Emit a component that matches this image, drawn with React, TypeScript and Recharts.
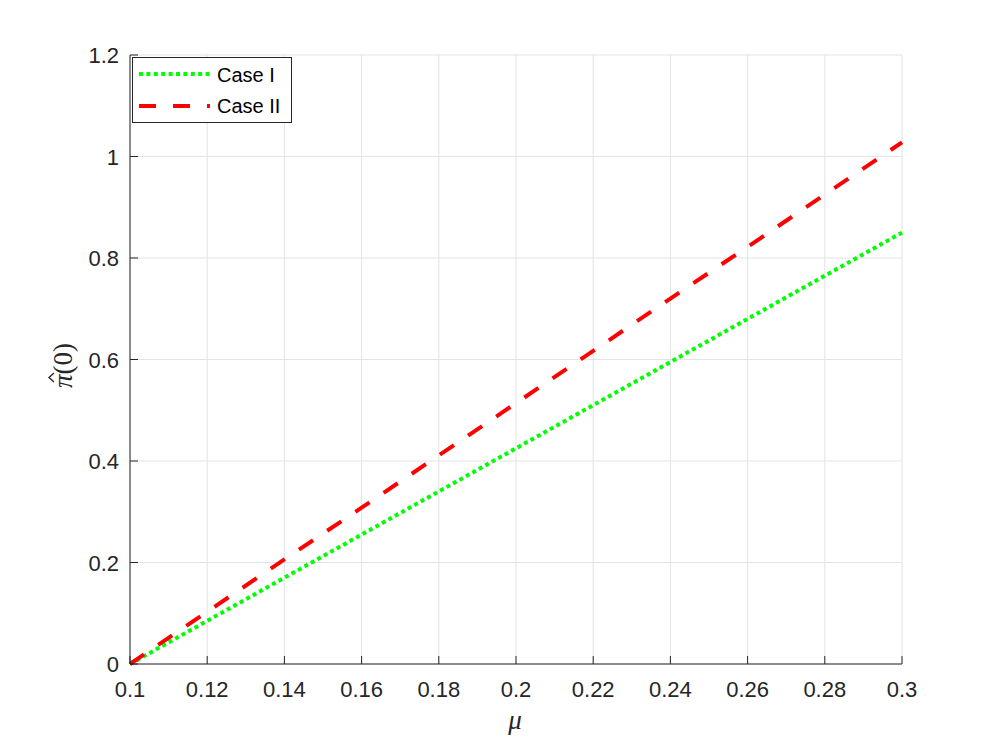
import React from 'react';
import { LineChart, Line, XAxis, YAxis, CartesianGrid, Label } from 'recharts';

const muValues = [0.1, 0.12, 0.14, 0.16, 0.18, 0.2, 0.22, 0.24, 0.26, 0.28, 0.3];
const caseI = [0, 0.085, 0.17, 0.255, 0.34, 0.425, 0.51, 0.595, 0.68, 0.765, 0.85];
const caseII = [0, 0.103, 0.206, 0.308, 0.411, 0.514, 0.617, 0.72, 0.822, 0.925, 1.028];
const xTicks = [0.1, 0.12, 0.14, 0.16, 0.18, 0.2, 0.22, 0.24, 0.26, 0.28, 0.3];
const yTicks = [0, 0.2, 0.4, 0.6, 0.8, 1, 1.2];
const seriesNames = ['Case I', 'Case II'];

const data = muValues.map((mu, i) => ({ mu, caseI: caseI[i], caseII: caseII[i] }));

const INK = '#262626';
const FONT = '"Liberation Sans", Arial, Helvetica, sans-serif';
const SERIF = '"Liberation Serif", "DejaVu Serif", serif';
const TICK_LEN = 8;
const GREEN_DASH = '4 3.4';
const RED_DASH = '17 17';

// ticks point inward, like matlab's box axes
const BottomTick = (props: any) => {
  const { x, y, payload } = props;
  return (
    <g>
      <line x1={x} x2={x} y1={y} y2={y - TICK_LEN} stroke={INK} strokeWidth={1} />
      <text x={x} y={y + 33} textAnchor="middle" fill={INK} fontSize={22} fontFamily={FONT}>
        {String(payload.value)}
      </text>
    </g>
  );
};

const TopTick = (props: any) => {
  const { x, y } = props;
  return <line x1={x} x2={x} y1={y} y2={y + TICK_LEN} stroke={INK} strokeWidth={1} />;
};

const LeftTick = (props: any) => {
  const { x, y, payload } = props;
  return (
    <g>
      <line x1={x} x2={x + TICK_LEN} y1={y} y2={y} stroke={INK} strokeWidth={1} />
      <text x={x - 11} y={y + 8} textAnchor="end" fill={INK} fontSize={22} fontFamily={FONT}>
        {String(payload.value)}
      </text>
    </g>
  );
};

const RightTick = (props: any) => {
  const { x, y } = props;
  return <line x1={x} x2={x - TICK_LEN} y1={y} y2={y} stroke={INK} strokeWidth={1} />;
};

export default function App() {
  return (
    <div style={{ position: 'absolute', left: 0, top: 0, width: 996, height: 747, background: '#fff' }}>
      <LineChart width={996} height={747} data={data} margin={{ top: 55, right: 94, bottom: 0, left: 0 }}>
        <CartesianGrid stroke="#e3e3e3" strokeWidth={1} />
        <XAxis
          dataKey="mu"
          type="number"
          domain={[0.1, 0.3]}
          ticks={xTicks}
          height={83}
          tickSize={0}
          tickMargin={0}
          tick={<BottomTick />}
          axisLine={{ stroke: INK }}
          tickLine={false}
          interval={0}
        >
          <Label
            content={() => (
              <text x={515} y={729} textAnchor="middle" fill={INK} fontSize={27} fontStyle="italic" fontFamily={SERIF}>
                μ
              </text>
            )}
          />
        </XAxis>
        <XAxis
          xAxisId="top"
          orientation="top"
          dataKey="mu"
          type="number"
          domain={[0.1, 0.3]}
          ticks={xTicks}
          height={0}
          tickSize={0}
          tickMargin={0}
          tick={<TopTick />}
          axisLine={{ stroke: INK }}
          tickLine={false}
          interval={0}
        />
        <YAxis
          type="number"
          domain={[0, 1.2]}
          ticks={yTicks}
          width={130}
          tickSize={0}
          tickMargin={0}
          tick={<LeftTick />}
          axisLine={{ stroke: INK }}
          tickLine={false}
          interval={0}
        >
          <Label
            content={() => (
              <g transform="translate(72, 361) rotate(-90)" fill={INK} fontFamily={SERIF} fontSize={27}>
                <text x={-27} y={0}>
                  <tspan fontStyle="italic">π</tspan>(0)
                </text>
                {/* hat over pi */}
                <path d="M -21 -18 L -16.5 -23 L -12 -18" fill="none" stroke={INK} strokeWidth={1.4} />
              </g>
            )}
          />
        </YAxis>
        <YAxis
          yAxisId="right"
          orientation="right"
          type="number"
          domain={[0, 1.2]}
          ticks={yTicks}
          width={0}
          tickSize={0}
          tickMargin={0}
          tick={<RightTick />}
          axisLine={{ stroke: INK }}
          tickLine={false}
          interval={0}
        />
        <Line
          type="linear"
          dataKey="caseI"
          name={seriesNames[0]}
          stroke="#00ff00"
          strokeWidth={4}
          strokeDasharray={GREEN_DASH}
          dot={false}
          isAnimationActive={false}
        />
        <Line
          type="linear"
          dataKey="caseII"
          name={seriesNames[1]}
          stroke="#ff0000"
          strokeWidth={4}
          strokeDasharray={RED_DASH}
          dot={false}
          isAnimationActive={false}
        />
      </LineChart>
      {/* legend box, top-left inside the axes */}
      <svg width={161} height={67} style={{ position: 'absolute', left: 132, top: 57 }}>
        <rect x={0.5} y={0.5} width={159} height={65} fill="#fff" stroke={INK} strokeWidth={1} />
        <line x1={7} x2={78} y1={17} y2={17} stroke="#00ff00" strokeWidth={4} strokeDasharray={GREEN_DASH} />
        <text x={85} y={25} fill="#000" fontSize={20} fontFamily={FONT}>{seriesNames[0]}</text>
        <line x1={7} x2={78} y1={49} y2={49} stroke="#ff0000" strokeWidth={4} strokeDasharray={RED_DASH} />
        <text x={85} y={56} fill="#000" fontSize={20} fontFamily={FONT}>{seriesNames[1]}</text>
      </svg>
    </div>
  );
}
